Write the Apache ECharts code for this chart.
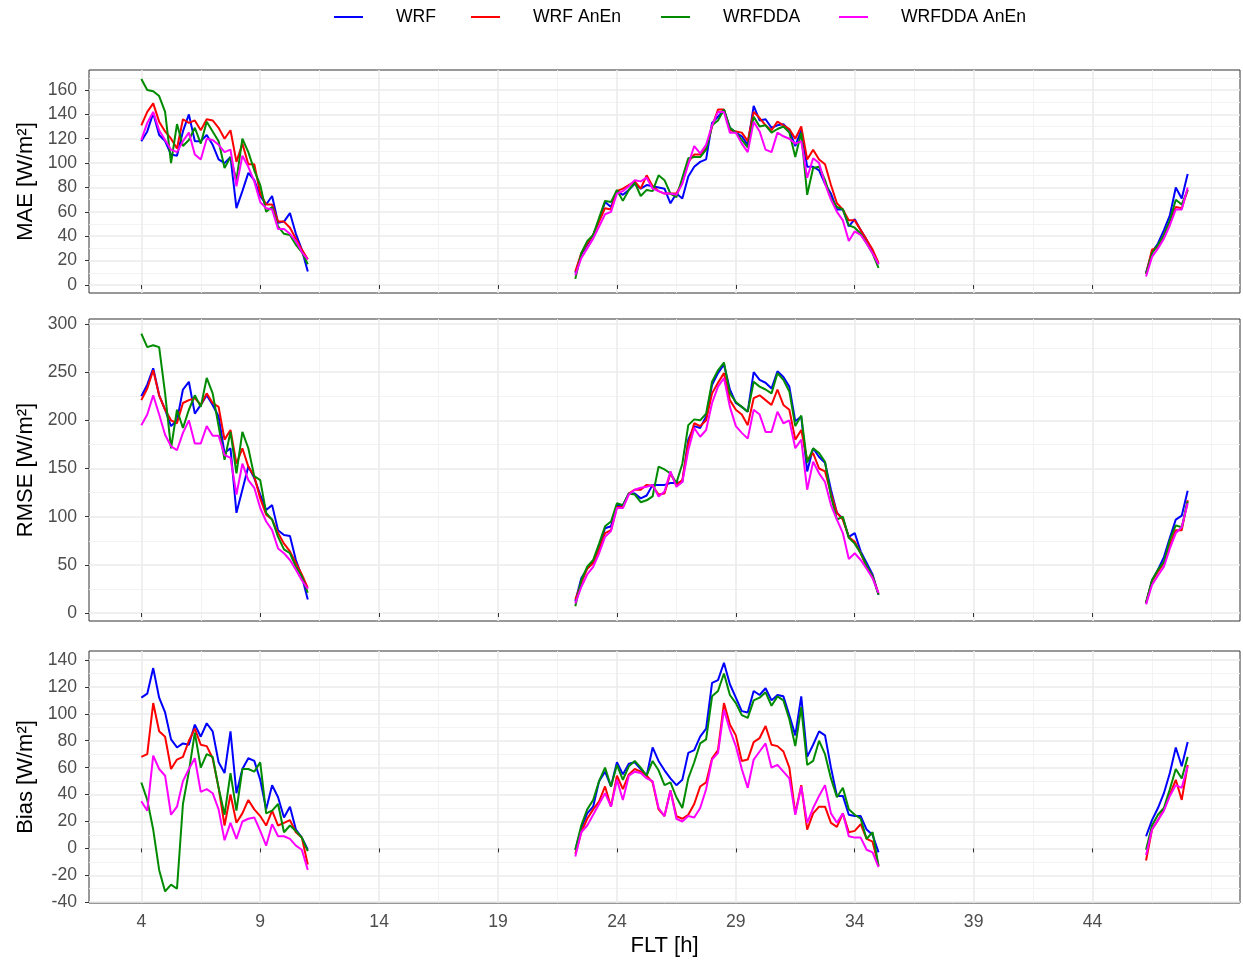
<!DOCTYPE html>
<html><head><meta charset="utf-8">
<script src="https://cdn.jsdelivr.net/npm/echarts@6/dist/echarts.min.js"></script>
<style>html,body{margin:0;padding:0;background:#fff}#c{width:1243px;height:964px}</style>
</head><body><div id="c"></div>
<script>
// Forecast lead time (h); null marks a gap between segments
const FLT = [4,4.25,4.5,4.75,5,5.25,5.5,5.75,6,6.25,6.5,6.75,7,7.25,7.5,7.75,8,8.25,8.5,8.75,9,9.25,9.5,9.75,10,10.25,10.5,10.75,11,
 null,
 22.25,22.5,22.75,23,23.25,23.5,23.75,24,24.25,24.5,24.75,25,25.25,25.5,25.75,26,26.25,26.5,26.75,27,27.25,27.5,27.75,28,28.25,28.5,28.75,29,29.25,29.5,29.75,30,30.25,30.5,30.75,31,31.25,31.5,31.75,32,32.25,32.5,32.75,33,33.25,33.5,33.75,34,34.25,34.5,34.75,35,
 null,
 46.25,46.5,46.75,47,47.25,47.5,47.75,48];

const SERIES_NAMES = ['WRF','WRF AnEn','WRFDDA','WRFDDA AnEn'];
const SERIES_COLORS = ['#0000FF','#FF0000','#008B00','#FF00FF'];

// MAE [W/m2]
const MAE_WRF = [118,126,141,123,118,107,106,126,140,118,118,123,115,103,100,105,63,77,92,86,73,66,73,51,52,59,42,29,11,
 null,
 10,25,33,41,53,68,64,77,74,78,83,79,82,81,80,79,67,75,71,89,97,101,103,133,138,144,129,125,122,115,147,135,136,129,131,132,127,114,127,97,97,94,83,75,62,62,48,54,45,37,27,17,
 null,
 10,27,34,45,57,80,71,91];
const MAE_WRF_ANEN = [131,142,149,134,126,120,112,136,133,135,127,136,135,129,120,127,101,116,99,99,75,66,66,52,52,47,38,29,21,
 null,
 11,26,34,41,52,63,62,77,79,82,85,79,90,81,77,75,75,75,84,101,107,107,112,130,144,144,127,126,125,118,142,137,131,127,134,131,128,120,130,103,111,103,99,82,67,62,53,53,45,37,29,18,
 null,
 9,29,31,41,52,64,63,78];
const MAE_WRFDDA = [169,160,159,155,142,100,132,114,119,129,116,134,126,118,96,105,86,120,109,94,82,60,64,48,42,41,33,27,17,
 null,
 5,26,36,41,55,69,68,78,69,78,84,73,78,77,90,86,75,72,88,104,105,105,111,131,135,144,129,125,119,113,138,130,131,125,128,130,125,105,125,74,96,97,86,71,64,62,49,47,42,34,26,14,
 null,
 9,26,33,41,53,70,66,78];
const MAE_WRFDDA_ANEN = [119,133,142,127,119,111,109,118,125,107,103,120,119,115,109,111,81,106,97,85,68,63,62,46,46,42,36,27,21,
 null,
 8,22,30,38,48,58,60,75,77,81,86,85,88,79,77,75,75,74,83,99,114,108,115,131,142,142,125,125,116,109,134,126,111,109,125,122,120,116,118,88,104,100,83,70,60,53,36,44,41,34,26,17,
 null,
 7,23,30,38,49,62,62,80];

// RMSE [W/m2]
const RMSE_WRF = [225,237,254,226,211,194,200,232,240,207,216,226,216,204,166,171,104,128,152,140,123,107,112,86,81,80,55,38,14,
 null,
 12,36,46,53,69,88,90,112,112,124,124,119,122,133,133,133,135,135,136,180,194,192,204,237,249,258,232,218,214,209,250,242,239,233,251,245,235,199,204,147,171,162,156,128,104,98,79,83,64,52,40,19,
 null,
 10,34,45,58,78,97,101,127];
const RMSE_WRF_ANEN = [221,233,252,226,211,200,197,218,221,223,216,228,218,214,180,190,155,171,152,142,119,102,97,83,72,64,52,40,26,
 null,
 14,31,46,52,66,83,86,110,110,124,128,128,133,132,123,124,145,133,138,176,197,194,200,228,239,249,221,211,206,195,223,226,221,216,232,216,211,180,190,159,166,150,147,124,104,97,79,74,62,48,38,20,
 null,
 11,33,43,52,71,86,86,117];
const RMSE_WRFDDA = [290,276,278,276,228,171,211,192,211,226,214,244,228,194,159,188,145,188,171,142,138,104,97,79,66,62,48,38,21,
 null,
 7,34,48,55,72,90,95,114,112,124,123,115,117,121,152,149,145,135,155,195,201,200,207,240,252,260,228,219,214,209,240,235,232,228,249,242,230,194,205,156,171,166,157,121,97,100,78,72,62,49,38,19,
 null,
 11,34,45,53,76,91,89,116];
const RMSE_WRFDDA_ANEN = [195,206,226,206,185,173,169,187,200,176,176,194,184,184,164,161,123,155,138,130,109,95,86,67,62,55,45,34,25,
 null,
 10,27,40,48,62,79,85,109,109,123,128,130,131,133,121,126,147,131,136,169,192,183,190,218,235,244,214,194,187,181,211,206,188,188,209,197,200,171,180,128,157,145,136,112,97,83,56,62,55,46,36,21,
 null,
 9,29,39,48,67,83,89,114];

// Bias [W/m2]
const BIAS_WRF = [112,115,134,112,101,81,75,78,77,92,83,93,87,64,56,87,41,59,67,65,51,29,47,38,23,31,14,8,-1,
 null,
 -1,15,26,31,50,57,46,64,55,63,64,59,54,75,65,58,52,47,51,71,73,83,89,123,125,138,122,112,102,101,117,114,119,110,114,113,99,84,113,68,77,87,84,60,39,39,25,24,24,14,10,-3,
 null,
 9,21,30,41,56,75,61,79];
const BIAS_WRF_ANEN = [68,70,108,87,83,59,66,68,80,89,77,76,67,45,17,40,19,26,36,29,24,17,28,17,19,21,12,8,-12,
 null,
 -4,12,22,29,35,46,31,54,44,55,59,57,54,49,29,24,43,24,22,25,33,46,49,67,73,108,92,84,65,66,79,82,91,77,76,72,60,26,47,14,26,31,31,19,16,26,12,13,18,7,5,-13,
 null,
 -9,14,21,29,40,51,36,62];
const BIAS_WRFDDA = [49,36,14,-16,-32,-27,-30,33,57,86,60,70,68,45,25,56,28,59,59,57,64,26,28,33,12,17,13,8,-2,
 null,
 -1,17,29,36,50,60,46,62,51,61,65,60,54,65,58,47,49,38,30,52,64,78,81,113,117,130,114,108,99,97,110,112,116,106,113,110,96,76,105,62,65,80,70,52,38,45,29,25,22,7,12,-13,
 null,
 -1,17,25,30,44,59,52,68];
const BIAS_WRFDDA_ANEN = [35,28,69,59,54,25,31,50,59,67,42,44,41,29,6,19,7,20,22,23,13,2,18,9,9,7,2,-1,-16,
 null,
 -6,12,17,25,33,41,31,51,36,54,57,56,52,50,30,24,43,22,20,24,23,30,44,66,71,103,88,76,59,45,66,72,78,60,62,57,52,25,46,19,30,39,47,26,19,26,9,8,8,-1,-3,-14,
 null,
 -5,14,21,28,39,47,45,61];

// Axis tick labels
const X_TICKS = [4,9,14,19,24,29,34,39,44];
const X_MINOR = [6.5,11.5,16.5,21.5,26.5,31.5,36.5,41.5,46.5,49];
const MAE_TICKS = [0,20,40,60,80,100,120,140,160];
const MAE_MINOR = [10,30,50,70,90,110,130,150,170];
const RMSE_TICKS = [0,50,100,150,200,250,300];
const RMSE_MINOR = [25,75,125,175,225,275];
const BIAS_TICKS = [-40,-20,0,20,40,60,80,100,120,140];
const BIAS_MINOR = [-30,-10,10,30,50,70,90,110,130];

const PANELS = [
  {title:'MAE [W/m²]', data:[MAE_WRF,MAE_WRF_ANEN,MAE_WRFDDA,MAE_WRFDDA_ANEN], ticks:MAE_TICKS, minor:MAE_MINOR, min:-6.6, max:176.4, top:70, height:223},
  {title:'RMSE [W/m²]', data:[RMSE_WRF,RMSE_WRF_ANEN,RMSE_WRFDDA,RMSE_WRFDDA_ANEN], ticks:RMSE_TICKS, minor:RMSE_MINOR, min:-8.3, max:305.2, top:319, height:302},
  {title:'Bias [W/m²]', data:[BIAS_WRF,BIAS_WRF_ANEN,BIAS_WRFDDA,BIAS_WRFDDA_ANEN], ticks:BIAS_TICKS, minor:BIAS_MINOR, min:-40.6, max:146.7, top:651, height:252}
];

const FONT = 'Liberation Sans, Arial, Helvetica, sans-serif';
const MAJOR_GRID = {color:'#EBEBEB', width:1.6};
const MINOR_GRID = {color:'#F2F2F2', width:0.9};

const grid = [], xAxis = [], yAxis = [], series = [];
PANELS.forEach((p, gi) => {
  grid.push({left:89, right:3, top:p.top, height:p.height, show:true, borderColor:'#333333', borderWidth:1, backgroundColor:'transparent'});
});
// minor axes first (drawn underneath), then major
PANELS.forEach((p, gi) => {
  xAxis.push({type:'value', gridIndex:gi, position:'bottom', min:1.8, max:50.2, z:0,
    axisLine:{show:false}, axisTick:{show:false, customValues:X_MINOR}, axisLabel:{show:false, customValues:X_MINOR},
    splitLine:{show:true, lineStyle:MINOR_GRID}});
  yAxis.push({type:'value', gridIndex:gi, position:'left', min:p.min, max:p.max, z:0,
    axisLine:{show:false}, axisTick:{show:false, customValues:p.minor}, axisLabel:{show:false, customValues:p.minor},
    splitLine:{show:true, lineStyle:MINOR_GRID}});
});
PANELS.forEach((p, gi) => {
  const last = gi === PANELS.length - 1;
  xAxis.push({type:'value', gridIndex:gi, position:'bottom', min:1.8, max:50.2, z:1,
    name: last ? 'FLT [h]' : '', nameLocation:'middle', nameGap:32,
    nameTextStyle:{fontSize:22, color:'#000', fontFamily:FONT},
    axisLine:{show:false},
    axisTick:{show:true, length:4, lineStyle:{color:'#333333', width:1}, customValues:X_TICKS},
    axisLabel:{show:last, customValues:X_TICKS, color:'#4D4D4D', fontSize:17.6, fontFamily:FONT, margin:10},
    splitLine:{show:true, lineStyle:MAJOR_GRID}});
  yAxis.push({type:'value', gridIndex:gi, position:'left', min:p.min, max:p.max, z:1,
    name:p.title, nameLocation:'middle', nameRotate:90, nameGap:52,
    nameTextStyle:{fontSize:22, color:'#000', fontFamily:FONT},
    axisLine:{show:false},
    axisTick:{show:true, length:4, lineStyle:{color:'#333333', width:1}, customValues:p.ticks},
    axisLabel:{show:true, customValues:p.ticks, color:'#4D4D4D', fontSize:17.6, fontFamily:FONT, margin:12},
    splitLine:{show:true, lineStyle:MAJOR_GRID}});
  p.data.forEach((arr, si) => {
    series.push({
      type:'line', name:SERIES_NAMES[si], xAxisIndex:3+gi, yAxisIndex:3+gi,
      data: FLT.map((x, i) => [x, arr[i]]),
      symbol:'none', showSymbol:false, connectNulls:false, clip:true,
      color:SERIES_COLORS[si], lineStyle:{color:SERIES_COLORS[si], width:2}, z:3+si,
      emphasis:{disabled:true}
    });
  });
});

const LEGEND_LEFT = [334, 471, 661, 839];
const legend = SERIES_NAMES.map((n, i) => ({
  data:[n], left:LEGEND_LEFT[i], top:8, padding:0, orient:'horizontal',
  icon:'rect', itemWidth:29, itemHeight:2, selectedMode:false,
  textStyle:{fontSize:17.6, color:'#000', fontFamily:FONT, padding:[0,0,0,28]}
}));

const chart = echarts.init(document.getElementById('c'), null, {renderer:'canvas'});
chart.setOption({
  animation:false,
  backgroundColor:'#FFFFFF',
  textStyle:{fontFamily:FONT},
  legend, grid, xAxis, yAxis, series
});
</script>
</body></html>
